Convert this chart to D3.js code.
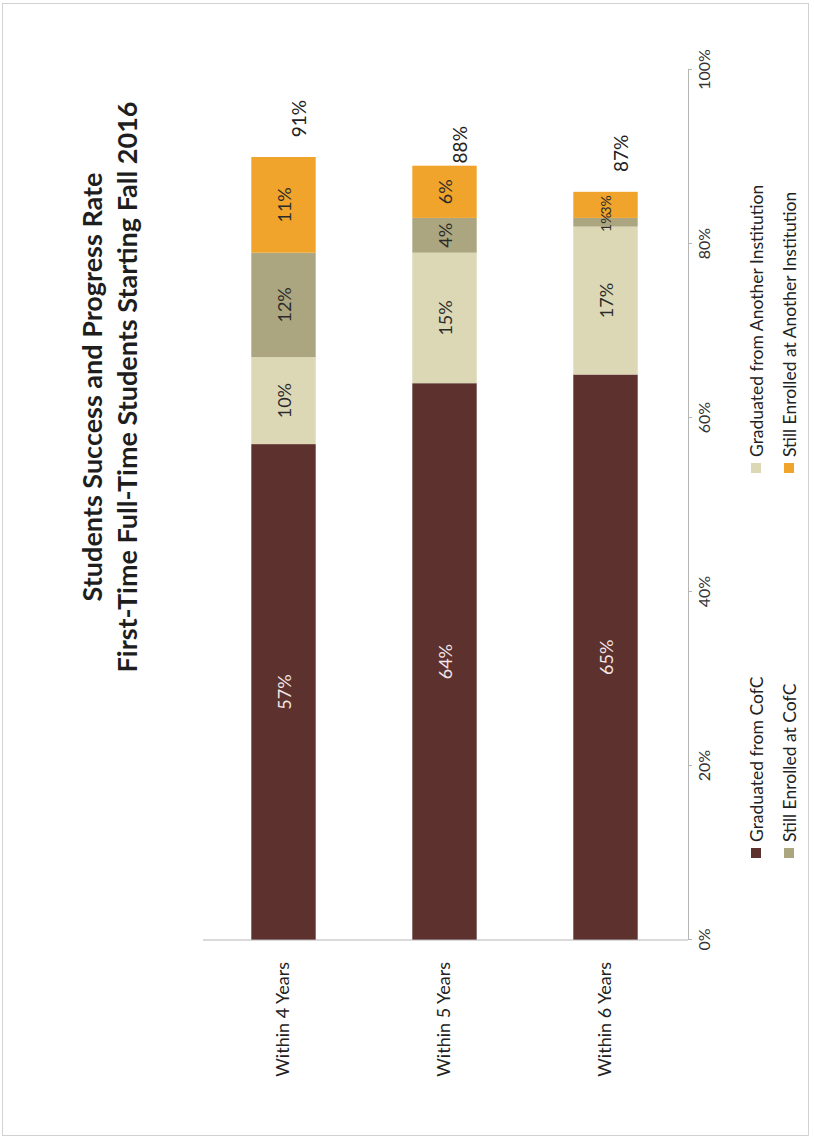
<!DOCTYPE html>
<html>
<head>
<meta charset="utf-8">
<script src="https://cdn.jsdelivr.net/npm/d3@7/dist/d3.min.js"></script>
<style>
  html, body { margin: 0; padding: 0; background: #fff; }
  svg { display: block; }
  text { font-family: Lato, "Open Sans", sans-serif; }
</style>
</head>
<body>
<svg id="chart" width="814" height="1139"></svg>
<script>
// ---- data ----
const categories = ["Within 4 Years", "Within 5 Years", "Within 6 Years"];
const seriesNames = [
  "Graduated from CofC",
  "Graduated from Another Institution",
  "Still Enrolled at CofC",
  "Still Enrolled at Another Institution"
];
const gradCofC = [57, 64, 65];
const gradOther = [10, 15, 17];
const enrolledCofC = [12, 4, 1];
const enrolledOther = [11, 6, 3];
const totals = [91, 88, 87];
const tickValues = [0, 20, 40, 60, 80, 100];
const titleLines = [
  "Students Success and Progress Rate",
  "First-Time Full-Time Students Starting Fall 2016"
];

// ---- appearance ----
const colors = ["#5d312e", "#dcd8b6", "#aba680", "#f0a42b"];
const labelColors = ["#f3e6e6", "#2b2b2b", "#2b2b2b", "#2b2b2b"];

const rows = categories.map((c, i) => ({
  category: c,
  [seriesNames[0]]: gradCofC[i],
  [seriesNames[1]]: gradOther[i],
  [seriesNames[2]]: enrolledCofC[i],
  [seriesNames[3]]: enrolledOther[i],
  total: totals[i]
}));

const stacked = d3.stack().keys(seriesNames)(rows);

const svg = d3.select("#chart");

// faint page edge
svg.append("rect")
  .attr("x", 2.5).attr("y", 3.5).attr("width", 806).attr("height", 1132)
  .attr("fill", "none").attr("stroke", "#c8c8c8").attr("stroke-width", 0.8);

// The whole chart is laid out as a horizontal bar chart and turned a quarter
// turn counter-clockwise, so values run upward and categories run left to right.
const plotLen = 870;   // 0% .. 100%
const catLen = 483;

const g = svg.append("g").attr("transform", "translate(203,940) rotate(-90)");

const x = d3.scaleLinear().domain([0, 100]).range([0, plotLen]);
const y = d3.scaleBand().domain(categories).range([0, catLen])
  .paddingInner(0.6).paddingOuter(0.3);

// bars
const layers = g.selectAll("g.layer").data(stacked).join("g")
  .attr("class", "layer")
  .attr("fill", (d, i) => colors[i]);

layers.selectAll("rect").data(d => d).join("rect")
  .attr("x", d => x(d[0]))
  .attr("y", d => y(d.data.category))
  .attr("width", d => x(d[1]) - x(d[0]))
  .attr("height", y.bandwidth());

// segment labels (thin segments get a smaller label)
stacked.forEach((layer, li) => {
  g.append("g").selectAll("text").data(layer).join("text")
    .attr("x", d => x((d[0] + d[1]) / 2))
    .attr("y", d => y(d.data.category) + y.bandwidth() / 2)
    .attr("text-anchor", "middle")
    .attr("dominant-baseline", "central")
    .attr("font-size", d => (d[1] - d[0]) < 4 ? 14 : 18)
    .attr("fill", labelColors[li])
    .text(d => (d[1] - d[0]) + "%");
});

// total labels beyond the bar ends
g.append("g").selectAll("text").data(rows).join("text")
  .attr("x", d => x(d.total) + 11)
  .attr("y", d => y(d.category) + y.bandwidth() / 2 + 15)
  .attr("text-anchor", "start")
  .attr("dominant-baseline", "central")
  .attr("font-size", 19)
  .attr("fill", "#222")
  .text(d => d.total + "%");

// category axis
const catAxis = g.append("g");
catAxis.append("line")
  .attr("x1", 0).attr("x2", 0).attr("y1", 0).attr("y2", catLen + 2)
  .attr("stroke", "#b5b5b5");
catAxis.selectAll("line.tick")
  .data(d3.range(categories.length + 1))
  .join("line").attr("class", "tick")
  .attr("x1", -5).attr("x2", 0)
  .attr("y1", i => i * y.step())
  .attr("y2", i => i * y.step())
  .attr("stroke", "#b5b5b5");
catAxis.call(d3.axisLeft(y).tickSize(0).tickPadding(22))
  .call(a => a.select(".domain").remove())
  .call(a => a.selectAll("text")
    .attr("font-family", "Lato, sans-serif")
    .attr("font-size", 18)
    .attr("fill", "#222"));

// value axis
const valAxis = g.append("g").attr("transform", `translate(0,${catLen + 2})`)
  .call(d3.axisBottom(x).tickValues(tickValues).tickFormat(d => d + "%")
    .tickSize(4).tickSizeOuter(0).tickPadding(7));
valAxis.select(".domain").attr("stroke", "#b5b5b5");
valAxis.selectAll(".tick line").attr("stroke", "#b5b5b5");
valAxis.selectAll("text")
  .attr("font-family", "Lato, sans-serif")
  .attr("font-size", 16)
  .attr("fill", "#333");

// title
const title = g.append("text")
  .attr("text-anchor", "middle")
  .attr("font-weight", "bold")
  .attr("font-size", 27)
  .attr("fill", "#1e1e1e");
titleLines.forEach((t, i) => {
  title.append("tspan")
    .attr("x", 553)
    .attr("y", -112 + i * 35)
    .attr("dominant-baseline", "central")
    .text(t);
});

// legend (two columns, two rows)
const legendPos = [
  { u: 87, v: 553 },
  { u: 472, v: 553 },
  { u: 87, v: 586 },
  { u: 472, v: 586 }
];
const legend = g.append("g").selectAll("g").data(seriesNames).join("g")
  .attr("transform", (d, i) => `translate(${legendPos[i].u},${legendPos[i].v})`);
legend.append("rect")
  .attr("x", -5).attr("y", -5).attr("width", 10).attr("height", 10)
  .attr("fill", (d, i) => colors[i]);
legend.append("text")
  .attr("x", 11)
  .attr("y", 0)
  .attr("dominant-baseline", "central")
  .attr("font-size", 17.5)
  .attr("fill", "#222")
  .text(d => d);
</script>
</body>
</html>
